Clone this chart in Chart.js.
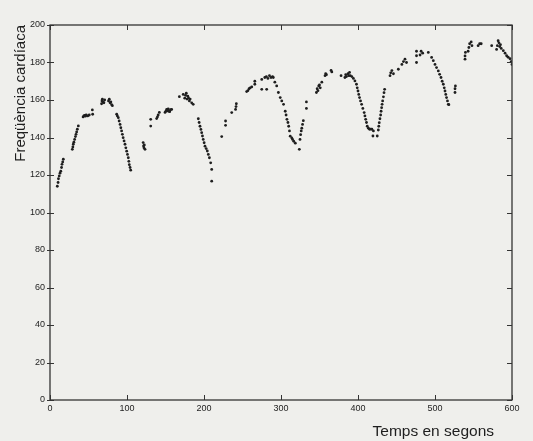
<!DOCTYPE html>
<html>
<head>
<meta charset="utf-8">
<script src="https://cdn.jsdelivr.net/npm/chart.js@4.4.1/dist/chart.umd.min.js"></script>
<style>
  html, body { margin: 0; padding: 0; background: #efefec; }
  #wrap { width: 533px; height: 441px; }
</style>
</head>
<body>
<div id="wrap"><canvas id="fcChart" width="533" height="441"></canvas></div>
<script>
// temps (s) i freqüència cardíaca, llegits del gràfic, per trams
const tram1Temps = [9.5, 10.5, 11, 12, 13, 14, 15, 15.6, 16.5, 17.3,
    29, 29.7, 30.3, 31, 32, 33, 33.8, 34.6, 35.5, 36.8,
    43, 44, 45, 46, 47, 49, 51, 55, 55.4,
    67, 67.5, 68, 69, 70, 71, 76, 77, 78, 79, 80, 81,
    86.6, 87.5, 88.7, 89.8, 91, 92, 93, 94, 95, 96.2, 97.4, 98.5, 99.6, 100.6, 101.7, 102.4, 103, 104, 104.8];
const tram1Freq = [114, 116, 118, 119.5, 121, 122, 124, 125.7, 127, 128.4,
    133.7, 135, 136.4, 137.5, 139, 140.5, 141.7, 143, 144.4, 146.2,
    151, 151.5, 151.8, 151.4, 152, 151.5, 152, 154.7, 152.4,
    158, 159.5, 160.4, 159, 158.5, 160, 159.5, 160.4, 158.5, 159, 157.5, 157,
    152.4, 151.5, 150.6, 148.8, 147, 145.2, 143.5, 141.7, 139.9, 138.2, 136.4, 134.5, 132.7, 131, 129.2, 127.3, 125.5, 124, 122.6];

const tram2Temps = [121, 121.5, 122, 122.5, 123.4, 130.8, 130.8,
    138.5, 139.5, 140.5, 142, 149.4, 150.5, 151.5, 152.5, 153.5, 154.5, 155.5, 156.5, 158,
    168, 173, 175, 176, 177, 178, 179, 180, 181, 182, 184, 186,
    192.6, 193.7, 194.8, 196, 197, 198, 199, 200.2, 201.3, 202.8, 204.3, 205.6, 207, 208.7, 210, 210];
const tram2Freq = [137.3, 135.5, 134.5, 136, 133.7, 149.7, 146.1,
    150.1, 151, 152, 153.4, 153.4, 154, 155, 154.2, 155.3, 154, 153.8, 154.8, 155,
    161.8, 163, 161, 162.5, 163.6, 160.5, 162, 161, 159.5, 160.5, 158.5, 157.7,
    150, 148, 146, 144.3, 142.6, 140.8, 139, 137.2, 135.4, 134.1, 132.8, 131, 129.2, 126.5, 123, 116.7];

const tram3Temps = [223, 228, 228, 236, 241, 241.6, 242,
    255.4, 257, 258.5, 260, 262, 266, 266, 275, 275, 281.4, 279, 281, 283, 285, 287, 289,
    290, 292, 294.4, 296.6, 299, 301, 303.3, 305.5, 306.6, 307.7, 309, 310, 311, 312, 314, 315, 316.5, 318.6, 323.8];
const tram3Freq = [140.5, 148.8, 146.5, 153.3, 155, 156.5, 158,
    164.5, 165, 166, 166.5, 167, 168.4, 170, 171, 165.7, 165.7, 172, 172.5, 171.5, 173, 172, 172.5,
    172, 169.5, 167.5, 164, 161.3, 159.5, 157.7, 154, 152, 149.7, 148, 146, 143.5, 140.7, 139.8, 139, 138, 137, 133.7];

const tram4Temps = [324.7, 325.5, 326.3, 327, 328, 329, 333, 333,
    346, 347, 348, 349, 350, 351, 353, 357.2, 358, 359, 365, 366,
    378, 383, 384, 385, 387, 388, 389, 390, 392, 394, 396,
    398, 399, 400, 401, 402, 403.3, 404.7, 406.3, 408, 409, 410, 411, 412, 413.5, 415, 416.5, 418, 419.4, 420, 425];
const tram4Freq = [139, 141.5, 143.5, 145, 147, 149, 155.5, 159,
    164, 166, 165, 167.5, 168, 166.5, 169.5, 173, 174, 173.5, 175.8, 175,
    173, 172, 173.5, 172.5, 174, 173, 174.7, 173, 172.5, 171.5, 170.2,
    168.4, 166.5, 164.8, 163, 161.3, 159.5, 157.7, 155.5, 153.3, 151.5, 149.7, 148, 146, 145, 144.4, 144.5, 144.4, 140.8, 143.5, 140.8];

const tram5Temps = [426.4, 427, 427.6, 428.5, 429.4, 430, 430.7, 431.3, 432, 433, 433.8, 434.6,
    441.6, 442.5, 444, 446, 452.4, 457, 459, 461, 463,
    476, 476, 476, 480.6, 482, 484, 491.3,
    495.6, 497.8, 500, 502, 504.3, 506, 507.8, 509.3, 510.8, 512, 513, 514, 515, 516.2, 517.3, 518,
    526, 526, 526.5];
const tram5Freq = [144, 146, 147.9, 150, 152, 154, 155.9, 157.7, 159.5, 161.7, 163.9, 165.7,
    173, 174.5, 175.7, 174, 176.4, 179, 180.5, 181.8, 180,
    183.6, 186, 180, 184, 186, 185, 185.4,
    182.7, 181, 179, 177.3, 175.5, 173.7, 172, 170, 168.4, 166.5, 164.8, 163, 161.3, 159.5, 157.7, 157.5,
    164, 166, 167.5];

const tram6Temps = [539, 539, 539.5, 543, 544, 545, 547, 548, 556, 558, 560,
    573.6, 580, 581, 582, 583, 584, 585, 586,
    588.7, 591, 593, 595, 597.4, 599, 600];
const tram6Freq = [181.8, 183.5, 185.4, 186, 188, 190, 191, 189, 189, 190, 190,
    189, 187, 189, 191.6, 190.5, 188.5, 189.5, 187.5,
    186.3, 185, 183.6, 182.8, 182, 180.5, 179];

const ticksX = [0, 100, 200, 300, 400, 500, 600];
const ticksY = [0, 20, 40, 60, 80, 100, 120, 140, 160, 180, 200];
const titolX = 'Temps en segons';

const trams = [
    [tram1Temps, tram1Freq], [tram2Temps, tram2Freq], [tram3Temps, tram3Freq],
    [tram4Temps, tram4Freq], [tram5Temps, tram5Freq], [tram6Temps, tram6Freq]
];
const punts = [];
trams.forEach(([t, f]) => t.forEach((x, i) => punts.push({ x: x, y: f[i] })));

const tinta = '#1e1e1e';
const lletra = '"Liberation Sans", Arial, sans-serif';

// fons gris del paper
const fons = {
    id: 'fons',
    beforeDraw(chart) {
        const c = chart.ctx;
        c.save();
        c.fillStyle = '#efefec';
        c.fillRect(0, 0, chart.width, chart.height);
        c.restore();
    }
};

// caixa, marques cap a dins i títol de l'eix x desplaçat a la dreta
const caixa = {
    id: 'caixa',
    afterDraw(chart) {
        const c = chart.ctx;
        const a = chart.chartArea;
        const sx = chart.scales.x;
        const sy = chart.scales.y;
        c.save();
        c.strokeStyle = '#333';
        c.lineWidth = 1.3;
        c.strokeRect(a.left, a.top, a.right - a.left, a.bottom - a.top);
        c.lineWidth = 1;
        c.beginPath();
        ticksX.forEach(v => {
            const px = Math.round(sx.getPixelForValue(v)) + 0.5;
            c.moveTo(px, a.bottom); c.lineTo(px, a.bottom - 5);
            c.moveTo(px, a.top); c.lineTo(px, a.top + 5);
        });
        ticksY.forEach(v => {
            const py = Math.round(sy.getPixelForValue(v)) + 0.5;
            c.moveTo(a.left - 3, py); c.lineTo(a.left + 4, py);
            c.moveTo(a.right, py); c.lineTo(a.right - 5, py);
        });
        c.stroke();
        c.fillStyle = tinta;
        c.font = '15.5px ' + lletra;
        c.textAlign = 'right';
        c.textBaseline = 'alphabetic';
        c.fillText(titolX, a.right - 18, chart.height - 5);
        c.restore();
    }
};

new Chart(document.getElementById('fcChart').getContext('2d'), {
    type: 'scatter',
    data: {
        datasets: [{
            label: 'Freqüència cardíaca',
            data: punts,
            backgroundColor: tinta,
            borderColor: tinta,
            pointRadius: 1.4,
            pointBorderWidth: 0
        }]
    },
    options: {
        responsive: false,
        animation: false,
        layout: { padding: { top: 25, right: 21, left: 12, bottom: 0 } },
        plugins: {
            legend: { display: false },
            tooltip: { enabled: false }
        },
        scales: {
            x: {
                type: 'linear',
                min: 0,
                max: 600,
                afterBuildTicks: s => { s.ticks = ticksX.map(v => ({ value: v })); },
                afterFit: s => { s.height = 41; },
                grid: { display: false, drawTicks: false },
                border: { display: false },
                ticks: { color: tinta, padding: 3, maxRotation: 0, font: { family: lletra, size: 9 } },
                title: { display: false }
            },
            y: {
                type: 'linear',
                min: 0,
                max: 200,
                afterBuildTicks: s => { s.ticks = ticksY.map(v => ({ value: v })); },
                afterFit: s => { s.width = 38; },
                grid: { display: false, drawTicks: false },
                border: { display: false },
                ticks: { color: tinta, padding: 5, font: { family: lletra, size: 9 } },
                title: {
                    display: true,
                    text: 'Freqüència cardíaca',
                    align: 'end',
                    color: tinta,
                    padding: { top: 0, bottom: 0 },
                    font: { family: lletra, size: 15 }
                }
            }
        }
    },
    plugins: [fons, caixa]
});
</script>
</body>
</html>
